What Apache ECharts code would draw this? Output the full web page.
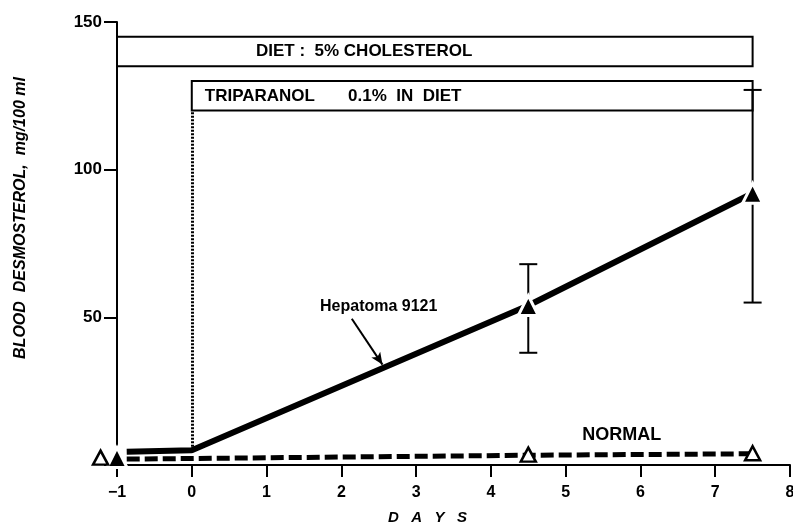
<!DOCTYPE html>
<html>
<head>
    <meta charset="utf-8">
    <title>Blood desmosterol</title>
    <style>
        html,body,#chart{
            height: 100%;
            width: 100%;
            padding: 0;
            margin: 0;
            background: #fff;
        }
    </style>
</head>
<body>
    <div id="chart"></div>
    <script src="https://cdn.jsdelivr.net/npm/echarts@6/dist/echarts.min.js"></script>
    <script>
        // days ticks
        var dayTicks = [-1, 0, 1, 2, 3, 4, 5, 6, 7, 8]
        var valueTicks = [0, 50, 100, 150]

        // hepatoma 9121 (filled triangles, solid line, error bars)
        var hepDays = [-1, 4.5, 7.5]
        var hepMean = [2.5, 54, 92]
        var hepLineDays = [-0.87, 0, 4.5, 7.5]
        var hepLineVals = [4.5, 5, 54, 92]
        var errDays = [4.5, 7.5]
        var errLow = [38, 55]
        var errHigh = [68, 127]

        // normal (open triangles, dashed line)
        var normDays = [-1.22, 4.5, 7.5]
        var normMean = [2.5, 3.5, 4]
        var normLineDays = [-0.87, 0, 4.5, 7.5]
        var normLineVals = [2, 2.2, 3.3, 3.8]

        // treatment boxes [x0, x1, y0, y1]
        var dietBox = [-1, 7.5, 135, 145]
        var tripBox = [0, 7.5, 120, 130]

        function pairs(xs, ys){
            return xs.map(function(x, i){ return [x, ys[i]] })
        }

        var font = 'Liberation Sans'
        var chart = echarts.init(document.getElementById('chart'))

        var option = {
            animation: false,
            backgroundColor: '#fff',
            grid: { left: 117, right: 3, top: 22, bottom: 58, outerBoundsMode: 'none', containLabel: false },
            graphic: [{
                type: 'text',
                x: 21, y: 218,
                rotation: Math.PI / 2,
                style: {
                    text: 'BLOOD  DESMOSTEROL,  mg/100 ml',
                    font: 'italic bold 16px "Liberation Sans"',
                    fill: '#000',
                    align: 'center',
                    verticalAlign: 'middle'
                }
            }],
            xAxis: {
                type: 'value',
                min: dayTicks[0],
                max: dayTicks[dayTicks.length - 1],
                interval: 1,
                splitLine: { show: false },
                axisLine: { show: true, onZero: false, lineStyle: { color: '#000', width: 2 } },
                axisTick: { show: true, inside: false, length: 12, lineStyle: { color: '#000', width: 2 } },
                axisLabel: {
                    color: '#000', fontFamily: font, fontWeight: 'bold', fontSize: 16, margin: 20,
                    formatter: function(v){ return v < 0 ? '\u2212' + Math.abs(v) : String(v) }
                },
                name: 'D   A   Y   S',
                nameLocation: 'middle',
                nameGap: 45,
                nameTextStyle: { color: '#000', fontFamily: font, fontStyle: 'italic', fontWeight: 'bold', fontSize: 15, padding: [0, 52, 0, 0] }
            },
            yAxis: {
                type: 'value',
                min: valueTicks[0],
                max: valueTicks[valueTicks.length - 1],
                interval: 50,
                splitLine: { show: false },
                axisLine: { show: true, onZero: false, lineStyle: { color: '#000', width: 2 } },
                axisTick: { show: true, inside: false, length: 13, lineStyle: { color: '#000', width: 2 } },
                axisLabel: {
                    color: '#000', fontFamily: font, fontWeight: 'bold', fontSize: 17, margin: 15,
                    formatter: function(v){ return v === 0 ? '' : String(v) }
                }
            },
            series: [
                {
                    // treatment boxes and dotted start line
                    type: 'line',
                    data: [],
                    markArea: {
                        silent: true,
                        itemStyle: { color: 'rgba(0,0,0,0)', borderColor: '#000', borderWidth: 2 },
                        label: {
                            show: true, color: '#000', fontFamily: font, fontWeight: 'bold', fontSize: 17,
                            verticalAlign: 'middle'
                        },
                        data: [
                            [{ name: 'DIET :  5% CHOLESTEROL', coord: [dietBox[0], dietBox[2]], label: { position: [140, '50%'] } },
                             { coord: [dietBox[1], dietBox[3]] }],
                            [{ name: 'TRIPARANOL       0.1%  IN  DIET', coord: [tripBox[0], tripBox[2]], label: { position: [14, '50%'] } },
                             { coord: [tripBox[1], tripBox[3]] }]
                        ]
                    },
                    markLine: {
                        silent: true,
                        symbol: 'none',
                        label: { show: false },
                        lineStyle: { color: '#000', type: [2, 1.5], width: 3 },
                        data: [[{ coord: [0, hepLineVals[1]] }, { coord: [0, tripBox[2]] }]]
                    }
                },
                {
                    name: 'Normal line',
                    type: 'line',
                    data: pairs(normLineDays, normLineVals),
                    showSymbol: false,
                    lineStyle: { color: '#000', width: 5, type: [13, 5] },
                    markPoint: {
                        symbol: 'rect', symbolSize: 1,
                        itemStyle: { color: 'rgba(0,0,0,0)' },
                        label: { show: true, position: 'inside', color: '#000', fontFamily: font, fontWeight: 'bold', fontSize: 18 },
                        data: [{ coord: [5.75, 10], value: 'NORMAL' }]
                    }
                },
                {
                    name: 'Hepatoma line',
                    type: 'line',
                    data: pairs(hepLineDays, hepLineVals),
                    showSymbol: false,
                    lineStyle: { color: '#000', width: 6 },
                    markLine: {
                        silent: true,
                        symbol: ['none', 'arrow'],
                        symbolSize: [8, 12],
                        label: { show: false },
                        lineStyle: { color: '#000', type: 'solid', width: 2 },
                        data: [[{ coord: [2.14, 49.5] }, { coord: [2.55, 34] }]]
                    },
                    markPoint: {
                        symbol: 'rect', symbolSize: 1,
                        itemStyle: { color: 'rgba(0,0,0,0)' },
                        label: { show: true, position: 'inside', color: '#000', fontFamily: font, fontWeight: 'bold', fontSize: 16 },
                        data: [{ coord: [2.5, 53.5], value: 'Hepatoma 9121' }]
                    }
                },
                {
                    name: 'Error bars',
                    type: 'custom',
                    data: errDays.map(function(d, i){ return [d, errLow[i], errHigh[i]] }),
                    renderItem: function(params, api){
                        var lo = api.coord([api.value(0), api.value(1)])
                        var hi = api.coord([api.value(0), api.value(2)])
                        var w = 9
                        var style = { stroke: '#000', lineWidth: 2 }
                        return {
                            type: 'group',
                            children: [
                                { type: 'line', shape: { x1: lo[0], y1: lo[1], x2: hi[0], y2: hi[1] }, style: style },
                                { type: 'line', shape: { x1: lo[0] - w, y1: lo[1], x2: lo[0] + w, y2: lo[1] }, style: style },
                                { type: 'line', shape: { x1: hi[0] - w, y1: hi[1], x2: hi[0] + w, y2: hi[1] }, style: style }
                            ]
                        }
                    },
                    z: 2
                },
                {
                    name: 'Hepatoma 9121',
                    type: 'scatter',
                    data: pairs(hepDays, hepMean),
                    symbol: 'triangle',
                    symbolSize: [20, 20],
                    clip: false,
                    itemStyle: { color: '#000', borderColor: '#fff', borderWidth: 3, opacity: 1 },
                    z: 4
                },
                {
                    name: 'Normal',
                    type: 'scatter',
                    data: pairs(normDays, normMean),
                    symbol: 'triangle',
                    symbolSize: [15, 14],
                    clip: false,
                    itemStyle: { color: '#fff', borderColor: '#000', borderWidth: 2.5, opacity: 1 },
                    z: 4
                }
            ]
        }

        chart.setOption(option)
    </script>
</body>
</html>
